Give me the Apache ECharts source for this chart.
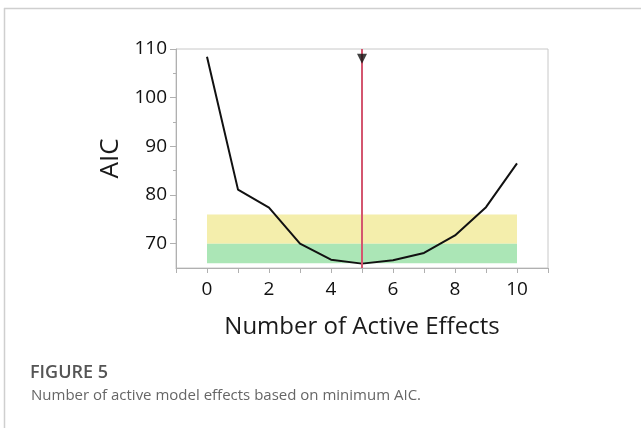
<!DOCTYPE html>
<html>
<head>
<meta charset="utf-8">
<script src="https://cdn.jsdelivr.net/npm/echarts@6/dist/echarts.min.js"></script>
<style>html,body{margin:0;padding:0;background:#fff;}#c{width:641px;height:428px;}</style>
</head>
<body>
<div id="c"></div>
<script>
// Data
const effects = [0, 1, 2, 3, 4, 5, 6, 7, 8, 9, 10];
const aic = [108.4, 81.1, 77.4, 70.0, 66.7, 65.9, 66.6, 68.1, 71.7, 77.5, 86.5];
const xTickLabels = [0, 2, 4, 6, 8, 10];
const yTickLabels = [70, 80, 90, 100, 110];
const yMinorTicks = [75, 85, 95, 105];
const yellowBand = [70, 76];
const greenBand = [66, 70];
const bandX = [0, 10];
const bestEffects = 5;
const markerY = [108];

const FONT = "Open Sans";
const chart = echarts.init(document.getElementById('c'), null, {renderer: 'canvas'});
chart.setOption({
  animation: false,
  backgroundColor: '#fff',
  grid: {left: 176, right: 93, top: 49, bottom: 160, show: true, borderColor: '#c8c8c8', borderWidth: 1},
  xAxis: {
    type: 'value', min: -1, max: 11, interval: 1,
    name: 'Number of Active Effects', nameLocation: 'middle', nameGap: 47,
    nameTextStyle: {fontFamily: FONT, fontSize: 24, color: '#1a1a1a'},
    axisLine: {show: true, onZero: false, lineStyle: {color: '#b0b0b0'}},
    axisTick: {show: true, length: 5, lineStyle: {color: '#b0b0b0'}},
    axisLabel: {
      fontFamily: FONT, fontSize: 19, color: '#111', margin: 12,
      formatter: v => xTickLabels.indexOf(v) >= 0 ? String(v) : ''
    },
    splitLine: {show: false}
  },
  yAxis: [{
    type: 'value', min: 65, max: 110,
    name: 'AIC', nameLocation: 'middle', nameGap: 46, nameRotate: 90,
    nameTextStyle: {fontFamily: FONT, fontSize: 26, color: '#1a1a1a'},
    axisLine: {show: true, onZero: false, lineStyle: {color: '#b0b0b0'}},
    axisTick: {show: true, length: 6, customValues: yTickLabels, lineStyle: {color: '#b0b0b0'}},
    axisLabel: {fontFamily: FONT, fontSize: 19, color: '#111', margin: 9, customValues: yTickLabels},
    splitLine: {show: false}
  }, {
    type: 'value', min: 65, max: 110, position: 'left',
    axisLine: {show: false, onZero: false},
    axisTick: {show: true, length: 3, customValues: yMinorTicks, lineStyle: {color: '#b0b0b0'}},
    axisLabel: {show: false},
    splitLine: {show: false}
  }],
  series: [{
    type: 'line',
    data: effects.map((x, i) => [x, aic[i]]),
    showSymbol: false,
    lineStyle: {color: '#111', width: 2},
    z: 3,
    markArea: {
      silent: true,
      data: [
        [{xAxis: bandX[0], yAxis: yellowBand[0], itemStyle: {color: '#f4eeac'}}, {xAxis: bandX[1], yAxis: yellowBand[1]}],
        [{xAxis: bandX[0], yAxis: greenBand[0], itemStyle: {color: '#abe6b6'}}, {xAxis: bandX[1], yAxis: greenBand[1]}]
      ]
    },
    markLine: {
      silent: true, symbol: 'none', label: {show: false},
      lineStyle: {color: '#d4566f', width: 2, type: 'solid'},
      data: [{xAxis: bestEffects}]
    }
  }, {
    type: 'scatter',
    data: markerY.map(y => [bestEffects, y]),
    symbol: 'triangle', symbolRotate: 180, symbolSize: [10, 10],
    itemStyle: {color: '#111'},
    z: 5
  }],
  graphic: [
    {type: 'line', shape: {x1: 4, y1: 8.5, x2: 641, y2: 8.5}, style: {stroke: '#cfcfcf', lineWidth: 1.5}},
    {type: 'line', shape: {x1: 4.5, y1: 8, x2: 4.5, y2: 428}, style: {stroke: '#cfcfcf', lineWidth: 1.5}},
    {type: 'text', left: 30, top: 364, style: {text: 'FIGURE 5', fontFamily: FONT, fontSize: 18, fontWeight: 600, fill: '#555'}},
    {type: 'text', left: 31, top: 388, style: {text: 'Number of active model effects based on minimum AIC.', fontFamily: FONT, fontSize: 15, fill: '#666'}}
  ]
});
</script>
</body>
</html>
